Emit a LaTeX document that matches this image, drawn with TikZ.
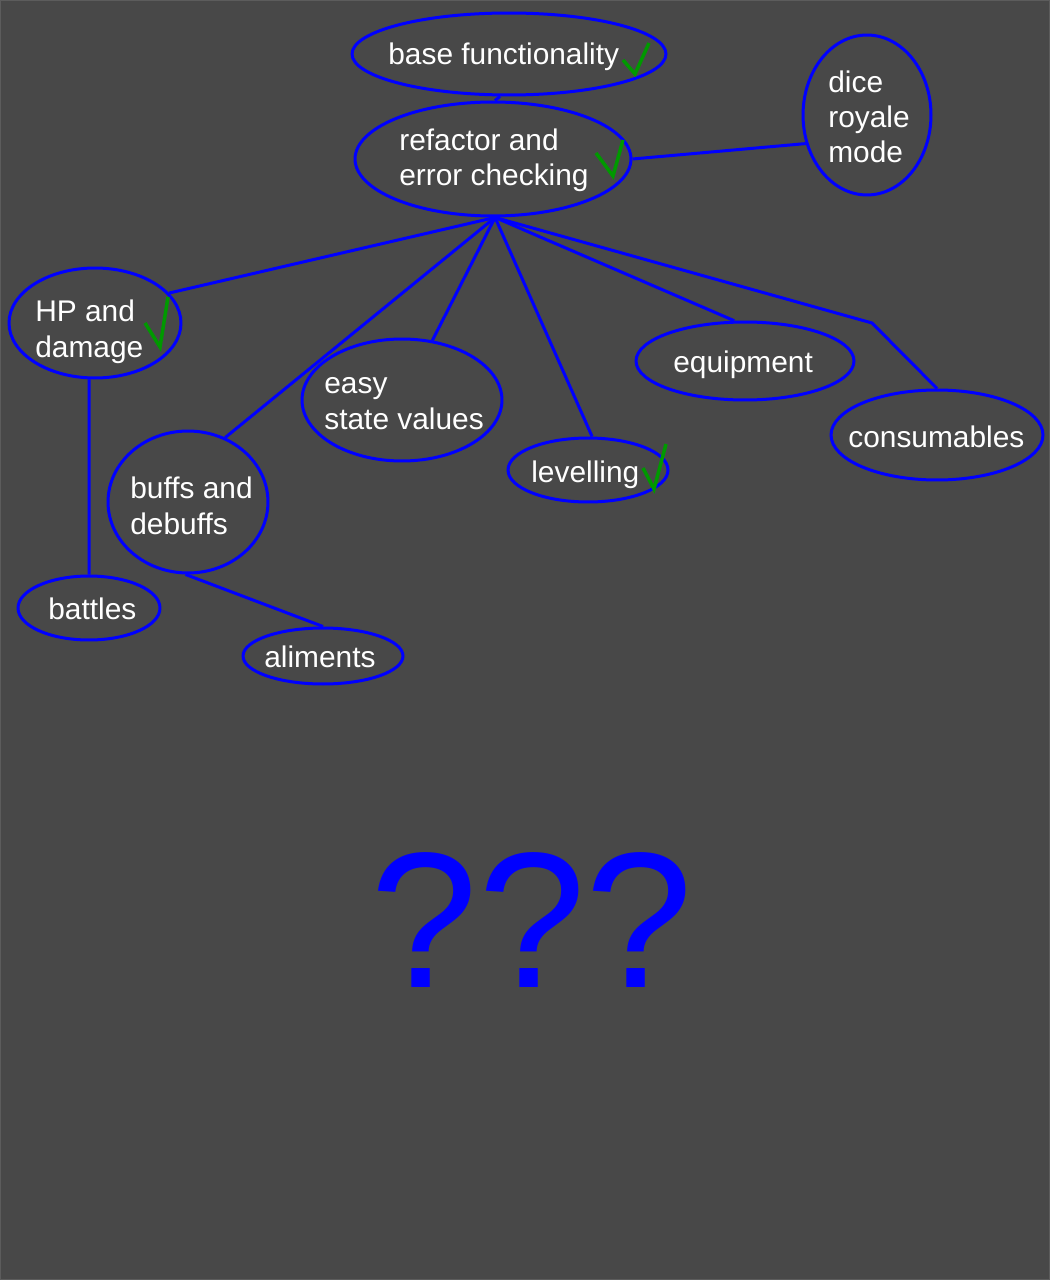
\documentclass[tikz,border=0pt]{standalone}
\usepackage{fontspec}
\setmainfont{Liberation Sans}
\usepackage{tikz}
\usetikzlibrary{shapes.geometric}
\definecolor{boardgray}{HTML}{484848}
\definecolor{boardedge}{HTML}{5C5C5C}
\definecolor{mapblue}{HTML}{0000FF}
\definecolor{donegreen}{HTML}{009900}

\begin{document}
\begin{tikzpicture}[x=0.02cm,y=-0.02cm,
  bubble/.style={ellipse,draw=mapblue,line width=0.06cm,inner sep=0pt},
  txt/.style={text=white,anchor=base west,inner sep=0pt,align=left,
    font=\fontsize{17}{20}\selectfont},
  link/.style={mapblue,line width=0.06cm},
  tick/.style={donegreen,line width=0.07cm}]
  \useasboundingbox (0,0) rectangle (1050,1280);
  \fill[boardgray] (0,0) rectangle (1050,1280);
  \draw[boardedge,line width=0.02cm] (0.5,0.5) rectangle (1049.5,1279.5);

  % the bubbles
  \node[bubble,minimum width=6.28cm,minimum height=1.64cm] (base) at (509,54) {};
  \node[bubble,minimum width=5.52cm,minimum height=2.28cm] (refactor) at (493,159) {};
  \node[bubble,minimum width=2.56cm,minimum height=3.2cm] (dice) at (867,115) {};
  \node[bubble,minimum width=3.44cm,minimum height=2.2cm] (hp) at (95,323) {};
  \node[bubble,minimum width=4cm,minimum height=2.44cm] (easy) at (402,400) {};
  \node[bubble,minimum width=3.2cm,minimum height=2.84cm] (buffs) at (188,502) {};
  \node[bubble,minimum width=3.2cm,minimum height=1.28cm] (levelling) at (588,470) {};
  \node[bubble,minimum width=4.36cm,minimum height=1.56cm] (equipment) at (745,361) {};
  \node[bubble,minimum width=4.24cm,minimum height=1.8cm] (consumables) at (937,435) {};
  \node[bubble,minimum width=2.84cm,minimum height=1.28cm] (battles) at (89,608) {};
  \node[bubble,minimum width=3.2cm,minimum height=1.12cm] (aliments) at (323,656) {};

  % their texts (base = last line)
  \node[txt] (basetxt) at (388,65) {base functionality};
  \node[txt] (refactortxt) at (399,186) {refactor and\\error checking};
  \node[txt] (dicetxt) at (828,163) {dice\\royale\\mode};
  \node[txt] (hptxt) at (35,357) {HP and\\damage};
  \node[txt] (easytxt) at (324,429) {easy\\state values};
  \node[txt] (buffstxt) at (130,534) {buffs and\\debuffs};
  \node[txt] (levellingtxt) at (531,482) {levelling};
  \node[txt] (equipmenttxt) at (673,372) {equipment};
  \node[txt] (consumablestxt) at (848,447) {consumables};
  \node[txt] (battlestxt) at (48,619) {battles};
  \node[txt] (alimentstxt) at (264,667) {aliments};

  % links
  \coordinate (bend) at (872,323);
  \draw[link] (base.258) -- (refactor.88);
  \draw[link] (refactor.east) -- (dice.205);
  \draw[link] (refactor.272) -- (hp.22);
  \draw[link] (refactor.272) -- (buffs.60);
  \draw[link] (refactor.272) -- (easy.63);
  \draw[link] (refactor.272) -- (levelling.83);
  \draw[link] (refactor.272) -- (equipment.105);
  \draw[link] (refactor.272) -- (bend) -- (consumables.north);
  \draw[link] (hp.264) -- (battles.north);
  \draw[link] (buffs.268) -- (aliments.north);

  % done marks
  \draw[tick] (623,60) -- (635,74) -- (649,43);
  \draw[tick] (596,153) -- (613,176) -- (623,140);
  \draw[tick] (145,323) -- (160,347) -- (168,297);
  \draw[tick] (643,468) -- (654,489) -- (666,444);

  \node[text=mapblue,anchor=base,inner sep=0pt,font=\fontsize{110}{115}\selectfont]
    (unknown) at (532,987) {???};
\end{tikzpicture}
\end{document}
